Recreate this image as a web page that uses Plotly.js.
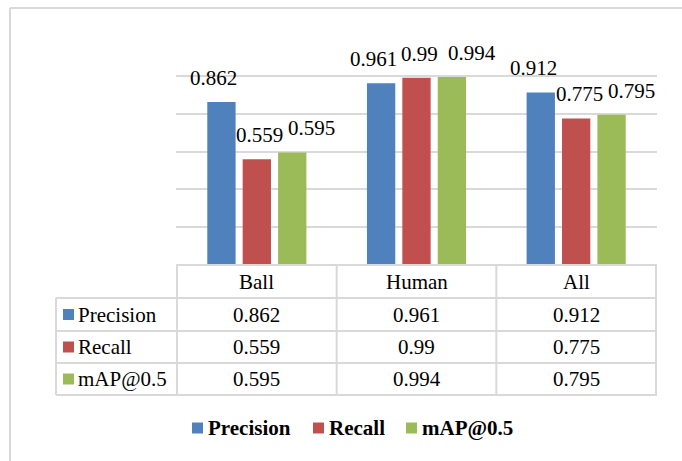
<!DOCTYPE html>
<html>
<head>
<meta charset="utf-8">
<script src="https://cdn.plot.ly/plotly-3.0.1.min.js"></script>
<style>html,body{margin:0;padding:0;background:#fff;}#chart{width:682px;height:461px;}</style>
</head>
<body>
<div id="chart"></div>
<script>
// ---- data ----
var categories = ["Ball", "Human", "All"];
var seriesNames = ["Precision", "Recall", "mAP@0.5"];
var precision = [0.862, 0.961, 0.912];
var recall = [0.559, 0.99, 0.775];
var map05 = [0.595, 0.994, 0.795];
var labelsText = {
  "Precision": ["0.862", "0.961", "0.912"],
  "Recall": ["0.559", "0.99", "0.775"],
  "mAP@0.5": ["0.595", "0.994", "0.795"]
};

// ---- style ----
var colors = ["#4F81BD", "#C0504D", "#9BBB59"];
var FONT = '"Liberation Serif", "Times New Roman", Times, serif';
var gridCol = "#d9d9d9";
var values = [precision, recall, map05];
var labelXShift = [-43, 3, 55];  // label offsets from category centre (px)

var W = 682, H = 461;
var mL = 176, mR = 25, mT = 38, mB = 196;
var plotH = H - mT - mB;
var plotW = W - mL - mR;
function py(px) { return (H - mB - px) / plotH; }   // pixel y -> paper y
function pxX(px) { return (px - mL) / plotW; }       // pixel x -> paper x

var traces = seriesNames.map(function (name, i) {
  return {
    type: "bar", name: name, x: categories, y: values[i],
    marker: {color: colors[i]}, hoverinfo: "none"
  };
});

var shapes = [], annotations = [];

// data labels
seriesNames.forEach(function (name, i) {
  categories.forEach(function (c, j) {
    annotations.push({
      x: c, y: values[i][j], xref: "x", yref: "y",
      text: labelsText[name][j], showarrow: false,
      xanchor: "center", yanchor: "middle",
      xshift: labelXShift[i], yshift: 24,
      font: {family: FONT, size: 21, color: "#000"}
    });
  });
});

// data table
var rowTops = [265, 298, 331, 363, 395];
var line = {color: gridCol, width: 2};
shapes.push({type: "line", xref: "paper", yref: "paper", x0: 0, x1: 1, y0: py(rowTops[0]), y1: py(rowTops[0]), line: line});
for (var r = 1; r < rowTops.length; r++) {
  shapes.push({type: "line", xref: "paper", yref: "paper", x0: pxX(56), x1: 1, y0: py(rowTops[r]), y1: py(rowTops[r]), line: line});
}
shapes.push({type: "line", xref: "paper", yref: "paper", x0: pxX(56), x1: pxX(56), y0: py(rowTops[1]), y1: py(rowTops[4]), line: line});
[-0.5, 0.5, 1.5, 2.5].forEach(function (xv) {
  shapes.push({type: "line", xref: "x", yref: "paper", x0: xv, x1: xv, y0: py(rowTops[0]), y1: py(rowTops[4]), line: line});
});
categories.forEach(function (c) {
  annotations.push({x: c, xref: "x", yref: "paper", y: py((rowTops[0] + rowTops[1]) / 2),
    text: c, showarrow: false, xanchor: "center", yanchor: "middle",
    font: {family: FONT, size: 21, color: "#000"}});
});
seriesNames.forEach(function (name, i) {
  var yc = (rowTops[i + 1] + rowTops[i + 2]) / 2;
  shapes.push({type: "rect", xref: "paper", yref: "paper",
    x0: pxX(63), x1: pxX(74), y0: py(yc - 5.5), y1: py(yc + 5.5),
    fillcolor: colors[i], line: {width: 0}});
  annotations.push({x: pxX(76), xref: "paper", yref: "paper", y: py(yc),
    text: name, showarrow: false, xanchor: "left", yanchor: "middle",
    font: {family: FONT, size: 21, color: "#000"}});
  categories.forEach(function (c, j) {
    annotations.push({x: c, xref: "x", yref: "paper", y: py(yc),
      text: labelsText[name][j], showarrow: false, xanchor: "center", yanchor: "middle",
      font: {family: FONT, size: 21, color: "#000"}});
  });
});

// bottom legend
var legSq = [192, 313, 406];
var legY = 428;
seriesNames.forEach(function (name, i) {
  shapes.push({type: "rect", xref: "paper", yref: "paper",
    x0: pxX(legSq[i]), x1: pxX(legSq[i] + 11), y0: py(legY - 5.5), y1: py(legY + 5.5),
    fillcolor: colors[i], line: {width: 0}});
  annotations.push({x: pxX(legSq[i] + 14), xref: "paper", yref: "paper", y: py(legY),
    text: "<b>" + name + "</b>", showarrow: false, xanchor: "left", yanchor: "middle",
    font: {family: FONT, size: 21, color: "#000"}});
});

// outer frame (top and left edges)
shapes.push({type: "line", xref: "paper", yref: "paper", x0: pxX(10), x1: pxX(W + 5), y0: py(8), y1: py(8), line: line});
shapes.push({type: "line", xref: "paper", yref: "paper", x0: pxX(10), x1: pxX(10), y0: py(8), y1: py(H + 5), line: line});

var layout = {
  width: W, height: H,
  margin: {l: mL, r: mR, t: mT, b: mB, pad: 0},
  paper_bgcolor: "#fff", plot_bgcolor: "#fff",
  showlegend: false,
  barmode: "group", bargap: 0.335, bargroupgap: 0.2,
  font: {family: FONT, size: 21, color: "#000"},
  xaxis: {type: "category", showticklabels: false, showgrid: false, zeroline: false, showline: false, ticks: ""},
  yaxis: {range: [0, 1.2001], dtick: 0.2, showticklabels: false, showgrid: true,
          gridcolor: gridCol, gridwidth: 2, zeroline: false, showline: false, ticks: ""},
  shapes: shapes, annotations: annotations
};

Plotly.newPlot("chart", traces, layout, {staticPlot: true, displayModeBar: false});
</script>
</body>
</html>
